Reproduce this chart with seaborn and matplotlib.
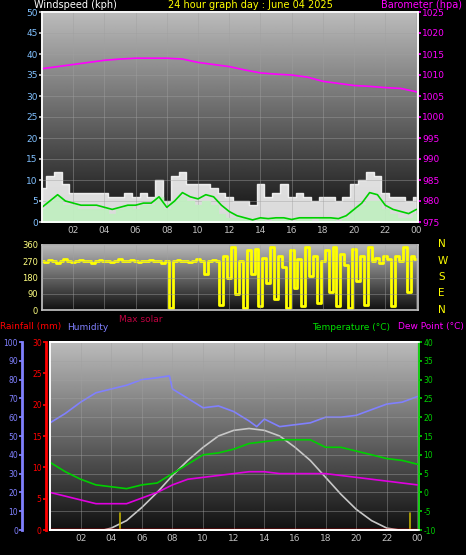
import numpy as np
import pandas as pd
import matplotlib
matplotlib.use("Agg")
import matplotlib.pyplot as plt
import seaborn as sns

sns.set_theme(style="dark")
plt.rcParams['font.family'] = ['DejaVu Sans']

# ---------------- data ----------------
half_hours = [i * 0.5 for i in range(49)]
wind_gust = [8,11,12,9,7,7,7,7,7,6,6,7,6,7,6,10,5,11,12,9,9,9,8,7,6,5,5,4,9,6,7,9,6,7,6,5,6,6,5,6,9,10,12,11,7,6,6,5,6]
wind_speed = [3,5,6,4,4,3,3,3,3,2,3,4,3,4,4,6,3,5,6,5,4,5,4,2,1,1,1,0,1,0,1,1,0,1,1,0,1,1,0,1,3,4,5,5,3,2,1,1,2]
wind_avg = [3.5,5,6.5,5,4.5,4,4,4,3.5,3,3.5,4,4,4.5,4.5,6,3.5,5,7,6,5.5,6.5,6,4,2.5,1.5,1,0.5,1,0.8,1,1,0.6,1,1,1,1,1,0.8,1.5,3,4.5,7,6.5,4,3,2.5,2,3]

hours = list(range(25))
baro = [1011.5,1012,1012.5,1013,1013.5,1013.8,1014,1014,1014,1013.8,1013,1012.5,1012,1011.2,1010.5,1010.2,1010,1009.5,1008.5,1008,1007.5,1007.3,1007,1006.8,1006]

quarter_hours = [i * 0.25 for i in range(97)]
wind_dir = ([270,265,275,270,260,270,280,270,265,270,275,270,270,260,270,275,270,270,265,270,280,270,270,275,
             270,265,270,270,275,270,270,260,270,10,270,275,270,270,265,270,280,270,200,270,275,270,
             30,300,180,350,90,270,10,330,200,340,20,290,150,350,60,300,240,10,330,120,280,20,350,190,
             300,40,270,330,100,350,20,310,250,10,340,160,300,30,350,270,290,260,300,280,20,300,270,350,100,300,280])

hum_t = [0,1,2,3,4,5,6,7,7.8,8,9,10,11,12,13,13.5,14,15,16,17,18,19,20,21,22,23,24]
humidity = [57,62,68,73,75,77,80,81,82,75,70,65,66,63,58,55,59,55,56,57,60,60,61,64,67,68,71]
temperature = [8,5.5,3.5,2,1.5,1,2,2.5,5,7.5,10,10.5,11.5,13,13.5,14,14,14,12,12,11,10,9,8.5,7.5]
dewpoint = [0,-1,-2,-3,-3,-3,-1.5,0,2,3.5,4,4.5,5,5.5,5.5,5,5,5,5,4.5,4,3.5,3,2.5,2]
solar_t = [0,3.5,4,5,6,7,8,9,10,11,12,13,14,15,16,17,18,19,20,21,22,22.8,24]
max_solar = [0,0,1,5,12,20,29,37,44,50,53,54,53,50,44,37,28,19,11,5,1,0,0]
rain = [0]*25
sun_events = [4.6, 23.5]

W, H = 466, 555
fig = plt.figure(figsize=(W/100, H/100), dpi=100, facecolor='black')

def ax_px(l, t, r, b):
    return fig.add_axes([l/W, 1-b/H, (r-l)/W, (b-t)/H])

grad = np.linspace(0, 1, 256).reshape(-1, 1)
def background(ax, ylo, yhi):
    ax.imshow(grad, extent=[0, 24.1, ylo, yhi], aspect='auto', cmap='gray',
              vmin=-0.1, vmax=1.4, origin='lower', zorder=0)

xt = list(range(2, 25, 2))
xl = ['%02d' % (h % 24) for h in xt]
ycol = '#ffff00'

def style(ax):
    ax.set_xlim(0, 24.1)
    ax.set_xticks(xt)
    ax.set_xticklabels(xl, color=ycol, fontsize=6.5)
    ax.grid(True, color='#a0a0a0', lw=0.6, alpha=0.5)
    ax.set_axisbelow(False)
    for s in ax.spines.values():
        s.set_color('#c0c0c0')
    ax.tick_params(length=2, pad=1, colors='#c0c0c0')

# ---- top panel ----
ax1 = ax_px(42, 12, 418, 222)
background(ax1, 0, 50)
ax1.fill_between(half_hours, wind_gust, step='mid', color='white', alpha=0.85, zorder=2)
ax1.fill_between(half_hours, wind_speed, step='mid', color='#c0f0c0', alpha=0.9, zorder=3)
sns.lineplot(x=half_hours, y=wind_avg, ax=ax1, color='#00d000', lw=1.2, zorder=4)
ax1.set_ylim(0, 50)
ax1.set_yticks(range(0, 51, 5))
style(ax1)
ax1.set_yticklabels([str(v) for v in range(0, 51, 5)], color='#80c0ff', fontsize=6.5)
ax1b = ax1.twinx()
sns.lineplot(x=hours, y=baro, ax=ax1b, color='#ff00ff', lw=1.2)
ax1b.set_ylim(975, 1025)
ax1b.set_yticks(range(975, 1026, 5))
ax1b.set_yticklabels([str(v) for v in range(975, 1026, 5)], color='#ff00ff', fontsize=6.5)
ax1b.tick_params(length=2, pad=1, colors='#ff00ff')
ax1b.grid(False)
ax1b.set_xlim(0, 24.1)
fig.text(34/W, 1-5/H, 'Windspeed (kph)', color='white', fontsize=7, va='center')
fig.text(250/W, 1-5/H, '24 hour graph day : June 04 2025', color=ycol, fontsize=7, va='center', ha='center')
fig.text(462/W, 1-5/H, 'Barometer (hpa)', color='#ff00ff', fontsize=7, va='center', ha='right')

# ---- middle panel ----
ax2 = ax_px(42, 245, 418, 310)
background(ax2, 0, 360)
sns.lineplot(x=quarter_hours, y=wind_dir, ax=ax2, color='#ffff00', lw=2, drawstyle='steps-mid')
ax2.set_ylim(0, 360)
ax2.set_yticks([0, 90, 180, 270, 360])
style(ax2)
ax2.set_xticklabels([])
ax2.tick_params(axis='x', colors=ycol)
ax2.set_yticklabels(['0', '90', '180', '270', '360'], color='#ffff80', fontsize=6)
for i, c in enumerate(['N', 'W', 'S', 'E', 'N']):
    fig.text(438/W, 1-(244+i*16.5)/H, c, color=ycol, fontsize=7.5, va='center')

# ---- bottom panel ----
ax3 = ax_px(50, 342, 419, 530)
background(ax3, 0, 100)
sns.lineplot(x=solar_t, y=max_solar, ax=ax3, color='#c8c8c8', lw=1.2)
sns.lineplot(x=hum_t, y=humidity, ax=ax3, color='#8080ff', lw=1.2)
for s in sun_events:
    ax3.plot([s, s], [0, 9], color='#c0b000', lw=1.2)
ax3.set_ylim(0, 100)
ax3.set_yticks(range(0, 101, 10))
style(ax3)
ax3.set_yticklabels([])
ax3.tick_params(axis='y', length=0)
# humidity outer axis
axh = ax3.twinx()
axh.spines['right'].set_visible(False)
axh.spines['left'].set_position(('outward', 20))
axh.spines['left'].set_color('#8080ff'); axh.spines['left'].set_linewidth(2)
axh.yaxis.set_ticks_position('left')
axh.set_ylim(0, 100)
axh.set_yticks(range(0, 101, 10))
axh.set_yticklabels([str(v) for v in range(0, 101, 10)], color='#8080ff', fontsize=5.5)
axh.tick_params(length=2, pad=1, colors='#8080ff')
axh.grid(False)
# rainfall axis
axr = ax3.twinx()
axr.spines['right'].set_visible(False)
axr.spines['left'].set_position(('outward', 3))
axr.spines['left'].set_color('#ff0000'); axr.spines['left'].set_linewidth(2)
axr.yaxis.set_ticks_position('left')
sns.lineplot(x=hours, y=rain, ax=axr, color='#ff0000', lw=2.5)
axr.set_ylim(0, 30)
axr.set_yticks(range(0, 31, 5))
axr.set_yticklabels([str(v) for v in range(0, 31, 5)], color='#ff0000', fontsize=5.5)
axr.tick_params(length=2, pad=1, colors='#ff0000')
axr.grid(False)
axr.set_xlim(0, 24.1)
# temperature axis
axt = ax3.twinx()
sns.lineplot(x=hours, y=temperature, ax=axt, color='#00d000', lw=1.2)
sns.lineplot(x=hours, y=dewpoint, ax=axt, color='#e000e0', lw=1.2)
axt.set_ylim(-10, 40)
axt.set_yticks(range(-10, 41, 5))
axt.set_yticklabels([str(v) for v in range(-10, 41, 5)], color='#00d000', fontsize=5.5)
axt.tick_params(length=2, pad=1, colors='#00d000')
axt.spines['right'].set_color('#00d000')
axt.grid(False)
axt.set_xlim(0, 24.1)
for a in (ax3, axh, axr, axt):
    a.set_xlim(0, 24.1)

fig.text(0/W, 1-327/H, 'Rainfall (mm)', color='#ff0000', fontsize=6.5, va='center')
fig.text(67/W, 1-327/H, 'Humidity', color='#8080ff', fontsize=6.5, va='center')
fig.text(119/W, 1-320/H, 'Max solar', color='#c00040', fontsize=6.5, va='center')
fig.text(312/W, 1-327/H, 'Temperature (°C)', color='#00e000', fontsize=6.5, va='center')
fig.text(464/W, 1-327/H, 'Dew Point (°C)', color='#ff00ff', fontsize=6.5, va='center', ha='right')

fig.savefig('out.png', dpi=100, facecolor='black')
